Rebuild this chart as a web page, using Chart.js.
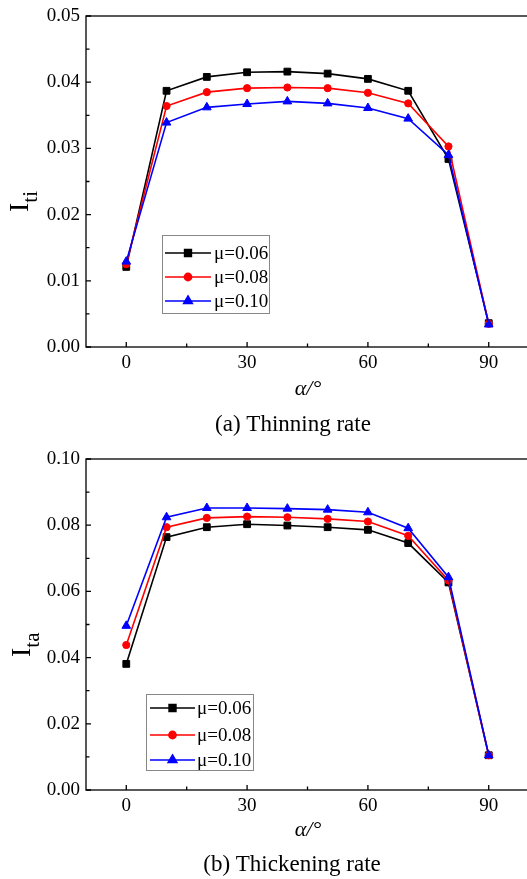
<!DOCTYPE html>
<html>
<head>
<meta charset="utf-8">
<script src="https://cdn.jsdelivr.net/npm/chart.js@4.4.1/dist/chart.umd.min.js"></script>
<style>
    html, body { margin: 0; padding: 0; background: #fff; }
    .box { position: absolute; left: 0; width: 527px; }
</style>
</head>
<body>
<div class="box" style="top:0;height:440px"><canvas id="thinChart" width="527" height="440"></canvas></div>
<div class="box" style="top:440px;height:439px"><canvas id="thickChart" width="527" height="439"></canvas></div>
<script>
'use strict';

// friction angle alpha (deg)
var angles = [0, 10, 20, 30, 40, 50, 60, 70, 80, 90];
var seriesNames = ['μ=0.06', 'μ=0.08', 'μ=0.10'];

// (a) thinning rate
var thinMu006 = [0.0121, 0.0387, 0.0408, 0.0415, 0.0416, 0.0413, 0.0405, 0.0387, 0.0284, 0.0036];
var thinMu008 = [0.0125, 0.0364, 0.0385, 0.0391, 0.0392, 0.0391, 0.0384, 0.0368, 0.0303, 0.0035];
var thinMu010 = [0.0129, 0.0339, 0.0362, 0.0367, 0.0371, 0.0368, 0.0361, 0.0345, 0.0290, 0.0034];

// (b) thickening rate
var thickMu006 = [0.0381, 0.0764, 0.0794, 0.0803, 0.0799, 0.0794, 0.0786, 0.0746, 0.0627, 0.0105];
var thickMu008 = [0.0438, 0.0794, 0.0822, 0.0826, 0.0824, 0.0819, 0.0811, 0.0768, 0.0633, 0.0105];
var thickMu010 = [0.0496, 0.0824, 0.0852, 0.0852, 0.0850, 0.0847, 0.0839, 0.0791, 0.0643, 0.0105];

var xTicks = [0, 30, 60, 90];
var xMinorTicks = [15, 45, 75];
var thinYTicks = [0, 0.01, 0.02, 0.03, 0.04, 0.05];
var thinYMinor = [0.005, 0.015, 0.025, 0.035, 0.045];
var thickYTicks = [0, 0.02, 0.04, 0.06, 0.08, 0.10];
var thickYMinor = [0.01, 0.03, 0.05, 0.07, 0.09];

var serif = "'Liberation Serif', 'Times New Roman', serif";
var colors = ['#000000', '#ff0000', '#0000ff'];
var markers = ['rect', 'circle', 'triangle'];
var markerSizes = [4.8, 3.6, 5];

function toPoints(values) {
    var pts = [];
    for (var i = 0; i < angles.length; i++) {
        pts.push({ x: angles[i], y: values[i] });
    }
    return pts;
}

function noPad(s) {
    s.paddingLeft = 0;
    s.paddingRight = 0;
    s.paddingTop = 0;
    s.paddingBottom = 0;
}

// box, inward ticks, legend and texts
var decorPlugin = {
    id: 'decor',
    afterDraw: function(chart, args, o) {
        var ctx = chart.ctx;
        var a = chart.chartArea;
        var xs = chart.scales.x;
        var ys = chart.scales.y;
        ctx.save();
        ctx.strokeStyle = '#000';
        ctx.lineWidth = 1.3;
        // right side of the box is cut off in the original
        ctx.strokeRect(a.left, a.top, a.right + 4 - a.left, a.bottom - a.top);

        ctx.beginPath();
        xTicks.forEach(function(v) {
            var px = xs.getPixelForValue(v);
            ctx.moveTo(px, a.bottom);
            ctx.lineTo(px, a.bottom - 5);
        });
        xMinorTicks.forEach(function(v) {
            var px = xs.getPixelForValue(v);
            ctx.moveTo(px, a.bottom);
            ctx.lineTo(px, a.bottom - 3.5);
        });
        o.yTicks.forEach(function(v) {
            var py = ys.getPixelForValue(v);
            ctx.moveTo(a.left, py);
            ctx.lineTo(a.left + 5, py);
        });
        o.yMinor.forEach(function(v) {
            var py = ys.getPixelForValue(v);
            ctx.moveTo(a.left, py);
            ctx.lineTo(a.left + 3.5, py);
        });
        ctx.stroke();

        // legend
        var L = o.legend;
        ctx.fillStyle = '#fff';
        ctx.fillRect(L.x, L.y, L.w, L.h);
        ctx.strokeStyle = '#888';
        ctx.lineWidth = 1;
        ctx.strokeRect(L.x + 0.5, L.y + 0.5, L.w, L.h);
        ctx.font = '19px ' + serif;
        ctx.textBaseline = 'middle';
        ctx.textAlign = 'left';
        for (var i = 0; i < seriesNames.length; i++) {
            var ry = L.rows[i];
            ctx.strokeStyle = colors[i];
            ctx.lineWidth = 1.6;
            ctx.beginPath();
            ctx.moveTo(L.lineX0, ry);
            ctx.lineTo(L.lineX1, ry);
            ctx.stroke();
            Chart.helpers.drawPoint(ctx, {
                pointStyle: markers[i],
                radius: markerSizes[i],
                rotation: 0,
                borderWidth: 1
            }, (L.lineX0 + L.lineX1) / 2, ry);
            ctx.fillStyle = colors[i];
            ctx.fill();
            ctx.fillStyle = '#000';
            ctx.fillText(seriesNames[i], L.textX, ry + 1);
        }

        // y title with subscript
        ctx.save();
        ctx.translate(o.yTitle.x, o.yTitle.y);
        ctx.rotate(-Math.PI / 2);
        ctx.textBaseline = 'alphabetic';
        ctx.textAlign = 'left';
        ctx.fillStyle = '#000';
        ctx.font = '28px ' + serif;
        ctx.fillText('I', 0, 0);
        var w = ctx.measureText('I').width;
        ctx.font = '21px ' + serif;
        ctx.fillText(o.yTitle.sub, w, 9);
        ctx.restore();

        // x title and caption
        ctx.textAlign = 'center';
        ctx.textBaseline = 'middle';
        ctx.fillStyle = '#000';
        ctx.font = 'italic 22px ' + serif;
        ctx.fillText('α/°', o.xTitle.x, o.xTitle.y);
        ctx.font = '23px ' + serif;
        ctx.fillText(o.caption.text, o.caption.x, o.caption.y);
        ctx.restore();
    }
};

function makeChart(id, seriesList, yMax, yTicks, yMinor, layout) {
    var datasets = [];
    for (var i = 0; i < seriesList.length; i++) {
        datasets.push({
            label: seriesNames[i],
            data: toPoints(seriesList[i]),
            borderColor: colors[i],
            backgroundColor: colors[i],
            pointStyle: markers[i],
            pointRadius: markerSizes[i],
            pointBorderWidth: 1,
            borderWidth: 1.6,
            order: seriesList.length - i
        });
    }
    var ctx = document.getElementById(id).getContext('2d');
    return new Chart(ctx, {
        type: 'line',
        data: { datasets: datasets },
        plugins: [decorPlugin],
        options: {
            responsive: false,
            animation: false,
            devicePixelRatio: 1,
            layout: {
                autoPadding: false,
                padding: { top: layout.top, right: 0, bottom: 0, left: 0 }
            },
            plugins: {
                legend: { display: false },
                tooltip: { enabled: false },
                decor: layout.decor
            },
            scales: {
                x: {
                    type: 'linear',
                    min: -10,
                    max: 99.5,
                    grid: { display: false, drawTicks: false, tickLength: 0 },
                    border: { display: false },
                    ticks: {
                        padding: 5,
                        color: '#000',
                        font: { family: serif, size: 19 }
                    },
                    afterBuildTicks: function(s) {
                        s.ticks = xTicks.map(function(v) { return { value: v }; });
                    },
                    afterFit: function(s) {
                        s.height = layout.xHeight;
                        noPad(s);
                    }
                },
                y: {
                    min: 0,
                    max: yMax,
                    grid: { display: false, drawTicks: false, tickLength: 0 },
                    border: { display: false },
                    ticks: {
                        padding: 6,
                        color: '#000',
                        font: { family: serif, size: 19 },
                        callback: function(v) { return v.toFixed(2); }
                    },
                    afterBuildTicks: function(s) {
                        s.ticks = yTicks.map(function(v) { return { value: v }; });
                    },
                    afterFit: function(s) {
                        s.width = 86;
                        noPad(s);
                    }
                }
            }
        }
    });
}

makeChart('thinChart', [thinMu006, thinMu008, thinMu010], 0.05, thinYTicks, thinYMinor, {
    top: 16,
    xHeight: 93,
    decor: {
        yTicks: thinYTicks,
        yMinor: thinYMinor,
        legend: { x: 162, y: 235, w: 107, h: 78, lineX0: 165, lineX1: 211, textX: 214, rows: [253, 277, 301] },
        yTitle: { x: 28, y: 212, sub: 'ti' },
        xTitle: { x: 308, y: 389 },
        caption: { text: '(a) Thinning rate', x: 293, y: 425 }
    }
});

makeChart('thickChart', [thickMu006, thickMu008, thickMu010], 0.10, thickYTicks, thickYMinor, {
    top: 19,
    xHeight: 89,
    decor: {
        yTicks: thickYTicks,
        yMinor: thickYMinor,
        legend: { x: 146, y: 254, w: 107, h: 76, lineX0: 150, lineX1: 195, textX: 197, rows: [268, 295, 320] },
        yTitle: { x: 30, y: 217, sub: 'ta' },
        xTitle: { x: 308, y: 390 },
        caption: { text: '(b) Thickening rate', x: 292, y: 425 }
    }
});
</script>
</body>
</html>
